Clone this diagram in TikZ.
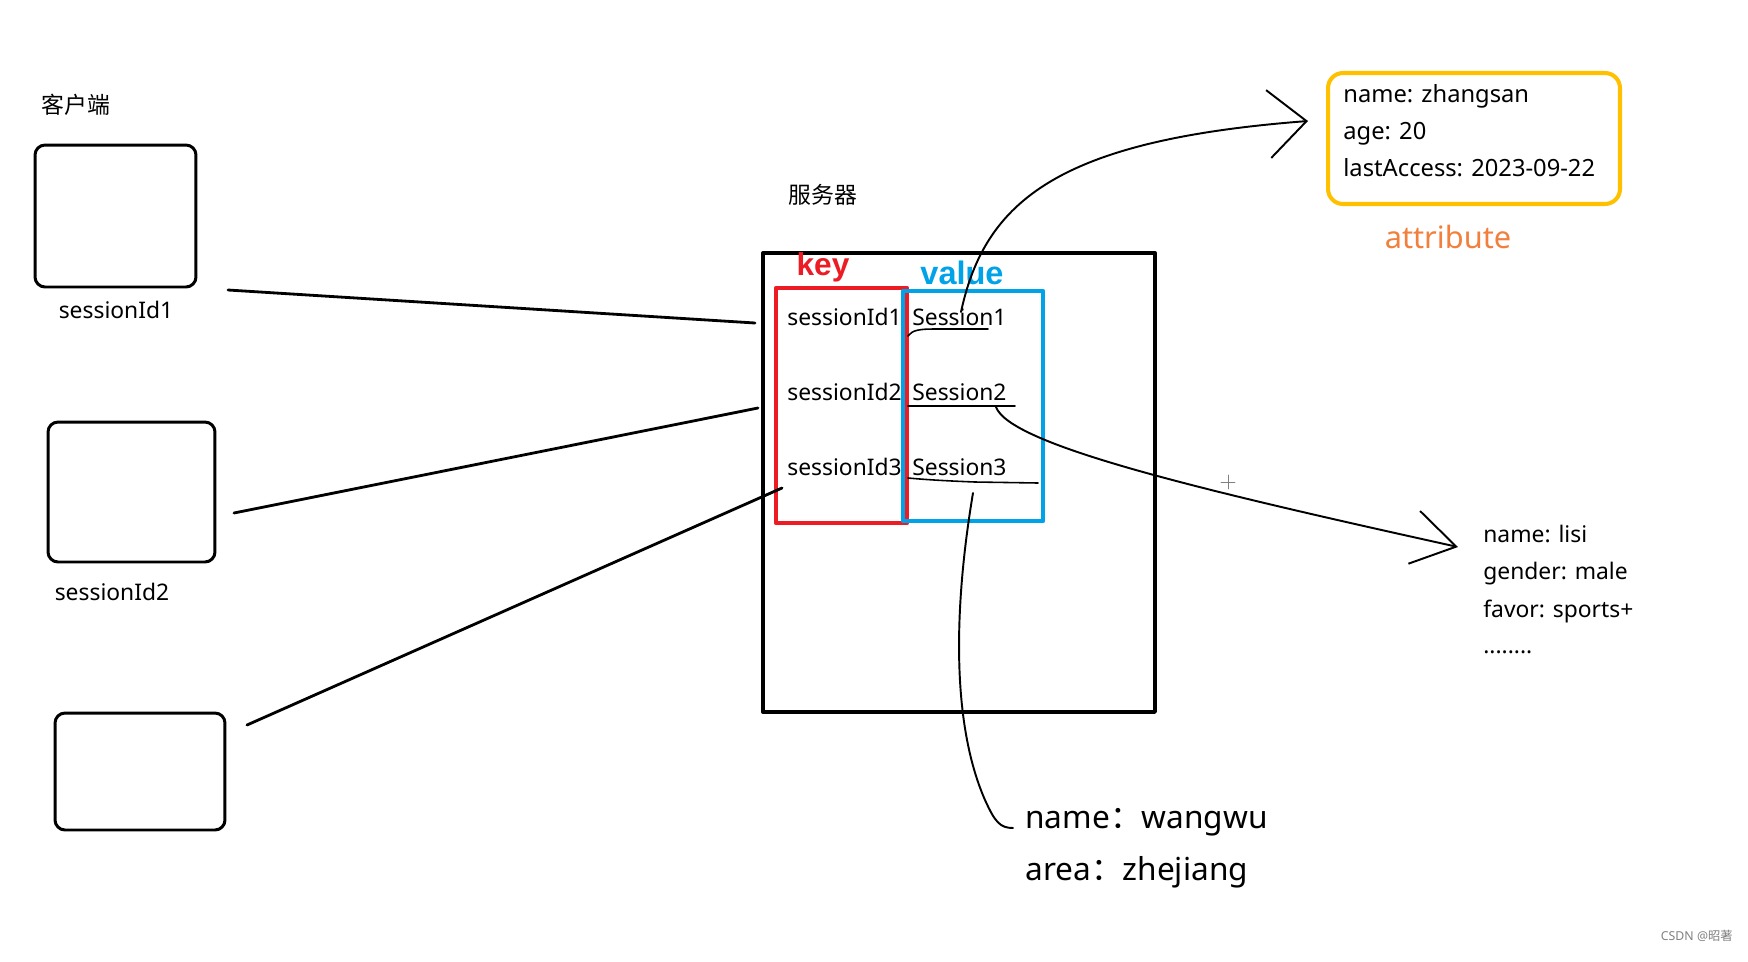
\documentclass[tikz,border=0pt]{standalone}
\usepackage{fontspec}
\setmainfont{Noto Sans}
\newfontfamily\cjk{Noto Sans CJK SC}
\newfontfamily\heavy{Liberation Sans}
\usetikzlibrary{arrows.meta}
\definecolor{keyred}{RGB}{237,28,36}
\definecolor{valblue}{RGB}{0,162,232}
\definecolor{attryellow}{RGB}{255,192,0}
\definecolor{attrorange}{RGB}{240,128,60}
\tikzstyle{client}=[draw, rounded corners=0.2cm, line width=1.7pt]
\tikzstyle{srv}=[draw, line width=2pt, minimum width=7.84cm, minimum height=9.18cm]
\tikzstyle{keyrect}=[draw=keyred, line width=2.5pt, minimum width=2.62cm, minimum height=4.7cm]
\tikzstyle{valrect}=[draw=valblue, line width=2.5pt, minimum width=2.8cm, minimum height=4.6cm]
\tikzstyle{attrbox}=[draw=attryellow, rounded corners=0.3cm, line width=2.3pt, minimum width=5.84cm, minimum height=2.62cm]
\tikzstyle{txt}=[inner sep=0pt, anchor=base west, font=\fontsize{13}{15}\selectfont]
\tikzstyle{ctxt}=[inner sep=0pt, anchor=base, font=\fontsize{13}{15}\selectfont]
\tikzstyle{bigtxt}=[inner sep=0pt, anchor=base west, font=\fontsize{18}{21}\selectfont]
\tikzstyle{wire}=[line width=1.6pt]
\tikzstyle{curve}=[line width=1.1pt]
\tikzstyle{uline}=[line width=0.9pt]

\begin{document}
\begin{tikzpicture}[x=0.02cm, y=-0.02cm, line cap=round, line join=round]
\useasboundingbox (0,0) rectangle (1748,961);

% clients
\node[ctxt] (clientlbl) at (76,113) {\cjk 客户端};
\node[client, minimum width=3.22cm, minimum height=2.84cm] (box1) at (115.5,216) {};
\node[client, minimum width=3.34cm, minimum height=2.8cm] (box2) at (131.5,492) {};
\node[client, minimum width=3.4cm, minimum height=2.34cm] (box3) at (140,771.5) {};
\node[ctxt] (sid1) at (116,318) {sessionId1};
\node[ctxt] (sid2) at (112,600) {sessionId2};

% server
\node[ctxt] (srvlbl) at (823,203) {\cjk 服务器};
\node[srv] (server) at (959,482.5) {};
\node[keyrect] (keybox) at (841.5,405.5) {};
\node[valrect] (valbox) at (973,406) {};
\node[inner sep=0pt, anchor=base, text=keyred, font=\fontsize{18}{21}\heavy\bfseries] (keylbl) at (823,275) {key};
\node[inner sep=0pt, anchor=base, text=valblue, font=\fontsize{18.5}{21}\heavy\bfseries] (vallbl) at (962,284) {value};

\node[txt] (k1) at (787,325) {sessionId1};
\node[txt] (k2) at (787,400) {sessionId2};
\node[txt] (k3) at (787,475) {sessionId3};
\node[txt] (v1) at (912,325) {Session1};
\node[txt] (v2) at (912,400) {Session2};
\node[txt] (v3) at (912,475) {Session3};

\draw[uline] (908,336) .. controls (912,330) and (920,329) .. (935,329) -- (988,329);
\draw[uline] (908,406) -- (1015,406);
\draw[uline] (908,478) .. controls (930,480) and (950,481) .. (975,482) -- (1038,483);

% client -> server
\coordinate (l1s) at (228,290);
\coordinate (l1e) at (755,323);
\coordinate (l2s) at (234,513);
\coordinate (l2e) at (758,408);
\coordinate (l3s) at (247,725);
\coordinate (l3e) at (782,488);
\draw[wire] (l1s) -- (l1e);
\draw[wire] (l2s) -- (l2e);
\draw[wire] (l3s) -- (l3e);

% session1 attributes
\node[attrbox] (attr1) at (1474,138.5) {};
\node[txt, font=\fontsize{13.5}{16}\selectfont] (a1) at (1343,102) {name: zhangsan};
\node[txt, font=\fontsize{13.5}{16}\selectfont] (a2) at (1343,139) {age: 20};
\node[txt, font=\fontsize{13.5}{16}\selectfont] (a3) at (1343,176) {lastAccess: 2023-09-22};
\node[inner sep=0pt, anchor=base, text=attrorange, font=\fontsize{17.5}{21}\selectfont] (attrlbl) at (1448,248) {attribute};

\coordinate (tip1) at (1308,121);
\draw[curve, -{Straight Barb[length=0.76cm, width=1.36cm]}] (961,312) .. controls (985,200) and (1060,140) .. (tip1);

% session2 attributes
\node[txt] (b1) at (1483,542) {name: lisi};
\node[txt] (b2) at (1483,579) {gender: male};
\node[txt] (b3) at (1483,617) {favor: sports+};
\node[txt] (b4) at (1483,653) {........};

\coordinate (tip2) at (1458,547);
\draw[curve, -{Straight Barb[length=0.86cm, width=1.08cm]}] (996,407) .. controls (1010,445) and (1200,490) .. (tip2);
\draw[gray, line width=0.5pt] (1221,482) -- (1235,482) (1228,475) -- (1228,489);

% session3 attributes
\node[bigtxt] (c1) at (1025,828) {name\cjk ：\normalfont wangwu};
\node[bigtxt] (c2) at (1025,880) {area\cjk ：\normalfont zhejiang};
\draw[curve] (973,493) .. controls (955,600) and (950,720) .. (985,800) .. controls (995,822) and (1000,828) .. (1013,828);

\node[inner sep=0pt, anchor=base east, text=gray, font=\fontsize{7}{8}\selectfont] (csdn) at (1733,940) {CSDN @\cjk 昭著};
\end{tikzpicture}
\end{document}
